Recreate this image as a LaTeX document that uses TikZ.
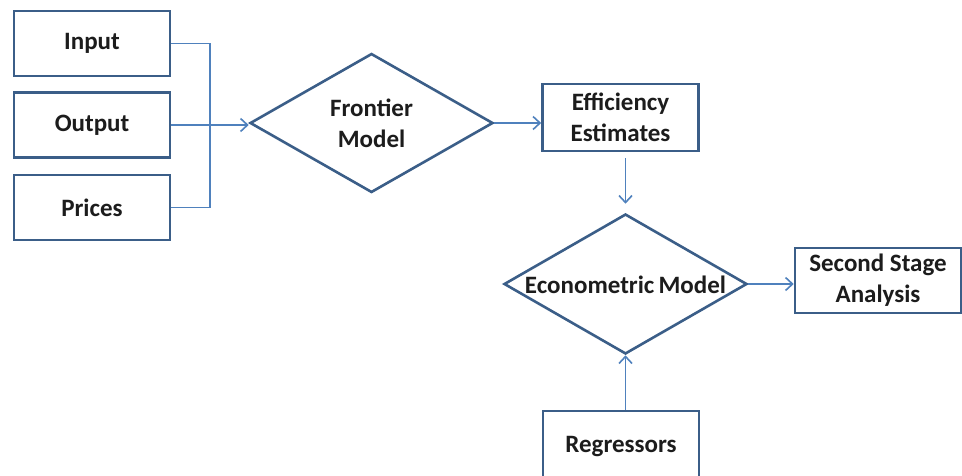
\documentclass[tikz,border=0pt]{standalone}
\usepackage{fontspec}
\setmainfont{Carlito}
\usetikzlibrary{shapes.geometric,arrows.meta}
\definecolor{bordc}{HTML}{3B5E88}
\definecolor{linkc}{HTML}{4F81BD}
\definecolor{txtc}{HTML}{1C1C1C}
\tikzset{
  box/.style={draw=bordc, line width=2.6pt, rectangle, inner sep=0pt, fill=white,
    font=\fontsize{25}{31}\selectfont\bfseries, text=txtc, align=center},
  dia/.style={draw=bordc, line width=2.6pt, diamond, inner sep=0pt, fill=white},
  dtext/.style={font=\fontsize{25}{31}\selectfont\bfseries, text=txtc, align=center, inner sep=0pt},
  link/.style={draw=linkc, line width=1.8pt},
  arr/.style={link, -{Straight Barb[length=7pt,width=13pt,line width=1.6pt]}}
}
\begin{document}
\begin{tikzpicture}[x=1pt,y=-1pt]
\useasboundingbox (0,0) rectangle (962,475);
\clip (0,0) rectangle (962,475);
\fill[white] (0,0) rectangle (962,475);
% input boxes
\node[box, minimum width=156pt, minimum height=65pt] (in) at (92,43.5) {Input};
\node[box, minimum width=156pt, minimum height=65pt] (out) at (92,125) {Output};
\node[box, minimum width=156pt, minimum height=65pt] (pr) at (92,207.5) {Prices};
% frontier diamond
\node[dia, minimum width=243pt, minimum height=139pt] (fm) at (371.5,123) {};
\node[dtext] (fmt) at (371.5,123) {Frontier\\Model};
% efficiency
\node[box, minimum width=156pt, minimum height=67pt] (eff) at (620.5,117.5) {Efficiency\\Estimates};
% econometric diamond
\node[dia, minimum width=243pt, minimum height=140pt] (em) at (625.5,284) {};
\node[dtext] (emt) at (625.5,285) {Econometric\,Model};
% second stage
\node[box, minimum width=166pt, minimum height=65pt] (ss) at (878,280.5) {Second Stage\\Analysis};
% regressors
\node[box, minimum width=156pt, minimum height=72pt] (reg) at (621,447) {Regressors};
% connectors
\coordinate (jn) at (210,125);
\draw[link] (in.east) -| (jn);
\draw[link] (pr.east) -| (jn);
\draw[link] (out.east) -- (jn);
\draw[arr] (jn) -- (jn -| fm.west);
\draw[arr] (fm.east) -- (fm.east -| eff.west);
\draw[arr, shorten <=6pt, shorten >=9pt] (eff.south -| em.north) -- (em.north);
\draw[arr] (em.east) -- (em.east -| ss.west);
\draw[arr] (reg.north -| em.south) -- (em.south);
\end{tikzpicture}
\end{document}
